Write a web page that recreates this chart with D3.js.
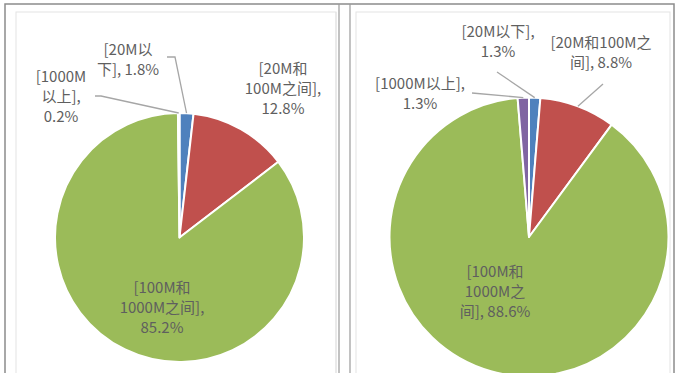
<!DOCTYPE html>
<html lang="zh">
<head>
<meta charset="UTF-8">
<title>宽带速率占比</title>
<script src="https://d3js.org/d3.v7.min.js"></script>
<style>
  body { margin: 0; background: #fff; }
  svg { display: block; }
  .lbl { font-family: "Noto Sans CJK SC", sans-serif; font-size: 15px; fill: #5f5f5f; }
</style>
</head>
<body>
<svg width="678" height="373"></svg>
<script>
// data
const categories = ["[20M以下]", "[20M和100M之间]", "[100M和1000M之间]", "[1000M以上]"];
const colors = ["#4f81bd", "#c0504d", "#9bbb59", "#8064a2"];
const sharesLeft = [1.8, 12.8, 85.2, 0.2];
const sharesRight = [1.3, 8.8, 88.6, 1.3];
const labelsLeft = [
  ["[20M以", "下], 1.8%"],
  ["[20M和", "100M之间],", "12.8%"],
  ["[100M和", "1000M之间],", "85.2%"],
  ["[1000M", "以上],", "0.2%"]
];
const labelsRight = [
  ["[20M以下],", "1.3%"],
  ["[20M和100M之", "间], 8.8%"],
  ["[100M和", "1000M之", "间], 88.6%"],
  ["[1000M以上],", "1.3%"]
];

// layout (label boxes and leader starts are placed by hand like in the original)
const panels = [
  { cx: 179.5, cy: 237.5, r: 124.5, values: sharesLeft, labels: labelsLeft,
    place: [
      { x: 128, y: 50, lead: [[167, 57], [175, 57]] },
      { x: 283, y: 69 },
      { x: 162, y: 288 },
      { x: 61, y: 77, lead: [[95, 96], [101, 96]] }
    ] },
  { cx: 529, cy: 237, r: 139.5, values: sharesRight, labels: labelsRight,
    place: [
      { x: 498, y: 32, lead: [[497, 72]] },
      { x: 601, y: 43, lead: [[603, 84]] },
      { x: 495, y: 272 },
      { x: 420, y: 84, lead: [[472, 93]] }
    ] }
];

const svg = d3.select("svg");

// frames
svg.append("rect").attr("x", 5).attr("y", 4).attr("width", 669).attr("height", 380)
  .attr("fill", "none").attr("stroke", "#8c8c8c").attr("stroke-width", 1.5);
[[16, 320], [356, 314]].forEach(([x, w]) => {
  svg.append("rect").attr("x", x).attr("y", 12).attr("width", w).attr("height", 370)
    .attr("fill", "none").attr("stroke", "#e3e3e3");
});
svg.append("line").attr("x1", 339).attr("x2", 339).attr("y1", 4).attr("y2", 373)
  .attr("stroke", "#9a9a9a").attr("stroke-width", 1.2);
svg.append("line").attr("x1", 350).attr("x2", 350).attr("y1", 4).attr("y2", 373)
  .attr("stroke", "#9a9a9a").attr("stroke-width", 1.2);
svg.append("line").attr("x1", 336).attr("x2", 336).attr("y1", 12).attr("y2", 373)
  .attr("stroke", "#e3e3e3");

const pie = d3.pie().sort(null).value(d => d);
const color = d3.scaleOrdinal().domain(categories).range(colors);

panels.forEach(p => {
  const g = svg.append("g").attr("transform", `translate(${p.cx},${p.cy})`);
  const arc = d3.arc().innerRadius(0).outerRadius(p.r);
  const arcs = pie(p.values);

  g.selectAll("path")
    .data(arcs)
    .enter().append("path")
      .attr("d", arc)
      .attr("fill", (d, i) => color(categories[i]))
      .attr("stroke", "#fff")
      .attr("stroke-width", 2)
      .attr("stroke-linejoin", "round");

  // leader lines
  arcs.forEach((d, i) => {
    const pl = p.place[i];
    if (!pl.lead) return;
    const a = (d.startAngle + d.endAngle) / 2;
    const end = [p.cx + p.r * Math.sin(a), p.cy - p.r * Math.cos(a)];
    svg.append("polyline")
      .attr("points", pl.lead.concat([end]).map(q => q.join(",")).join(" "))
      .attr("fill", "none")
      .attr("stroke", "#a6a6a6")
      .attr("stroke-width", 1.3);
  });

  // labels
  p.labels.forEach((lines, i) => {
    const pl = p.place[i];
    const t = svg.append("text").attr("class", "lbl").attr("text-anchor", "middle");
    lines.forEach((s, k) => {
      t.append("tspan").attr("x", pl.x).attr("y", pl.y + k * 20 + 5).text(s);
    });
  });
});
</script>
</body>
</html>
